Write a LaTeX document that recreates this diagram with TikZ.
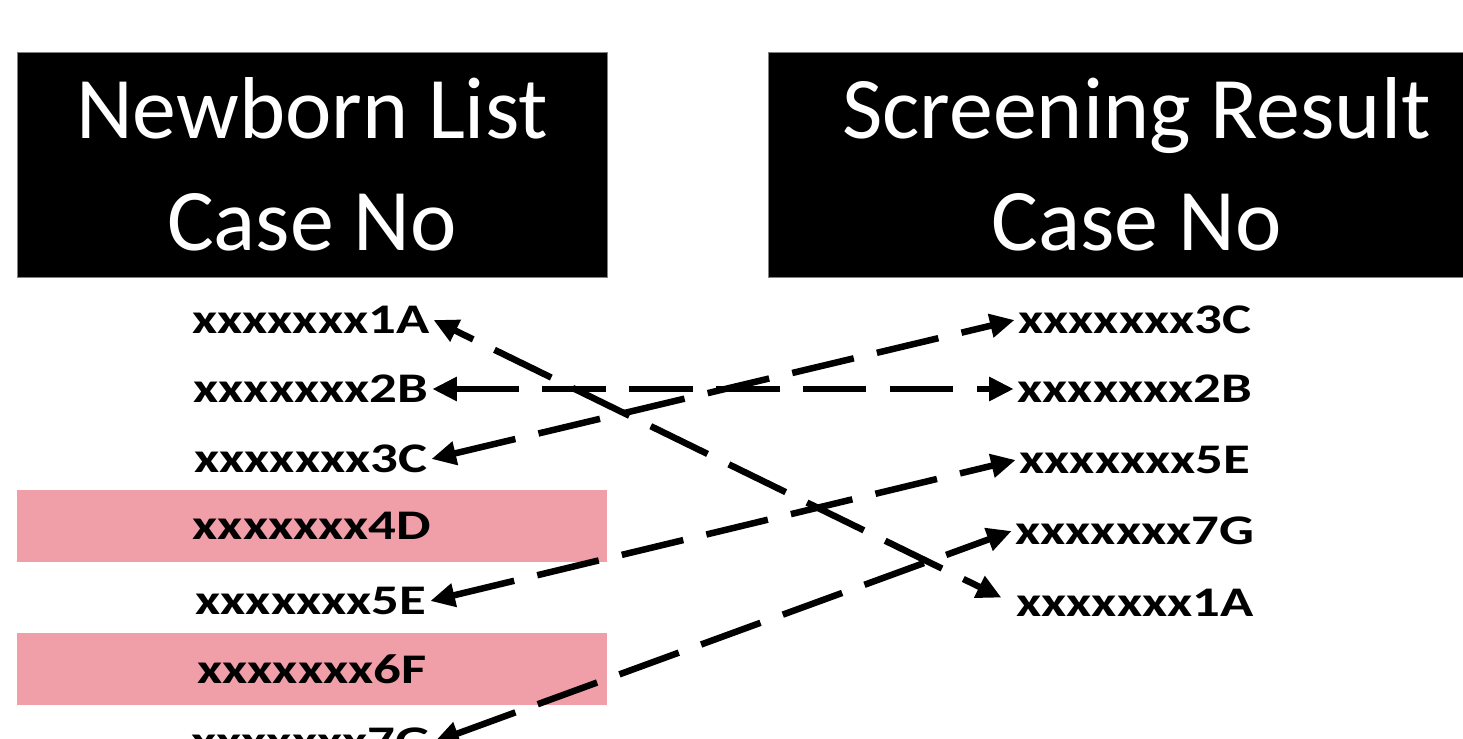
\documentclass[tikz,border=0pt]{standalone}
\usepackage{fontspec}
\setmainfont{Carlito}
\newfontfamily\listfont[FakeStretch=1.3]{Carlito}
\usetikzlibrary{arrows.meta}

\definecolor{rowpink}{RGB}{240,158,167}

\tikzset{
  header/.style={draw=gray, fill=black, text=white, align=center, minimum height=4.5cm,
    font=\fontsize{50}{63.5}\selectfont},
  case/.style={inner sep=2pt, font=\listfont\bfseries\fontsize{24}{28}\selectfont},
  flagged/.style={case, fill=rowpink, minimum width=11.8cm, minimum height=1.44cm},
  link/.style={line width=3.7pt, dash pattern=on 36pt off 13.5pt,
    {Triangle[length=14pt,width=13pt]}-{Triangle[length=14pt,width=13pt]}}
}

\begin{document}
\begin{tikzpicture}[x=0.02cm, y=-0.02cm]
\useasboundingbox (0,0) rectangle (1463,739);

\node[header, minimum width=11.8cm] (newborn) at (312,164.5) {Newborn List\\Case No};
\node[header, minimum width=14.74cm] (screen) at (1136.5,164.5) {Screening Result\\Case No};

% newborn list
\node[case] (l1) at (311,320) {xxxxxxx1A};
\node[case] (l2) at (311,389) {xxxxxxx2B};
\node[case] (l3) at (311,459) {xxxxxxx3C};
\node[flagged] (l4) at (312,526) {xxxxxxx4D};
\node[case] (l5) at (311,601) {xxxxxxx5E};
\node[flagged] (l6) at (312,669) {xxxxxxx6F};
\node[case] (l7) at (311,742) {xxxxxxx7G};

% screening result
\node[case] (r1) at (1135,320) {xxxxxxx3C};
\node[case] (r2) at (1135,389) {xxxxxxx2B};
\node[case] (r3) at (1135,460) {xxxxxxx5E};
\node[case] (r4) at (1135,531) {xxxxxxx7G};
\node[case] (r5) at (1135,603) {xxxxxxx1A};

\draw[link, dash phase=24pt, shorten >=7pt] (l1.east) -- (r5.west);
\draw[link] (l2.east) -- (r2.west);
\draw[link] (l3.east) -- (r1.west);
\draw[link] (l5.east) -- (r3.west);
\draw[link] (l7.east) -- (r4.west);

\end{tikzpicture}
\end{document}
